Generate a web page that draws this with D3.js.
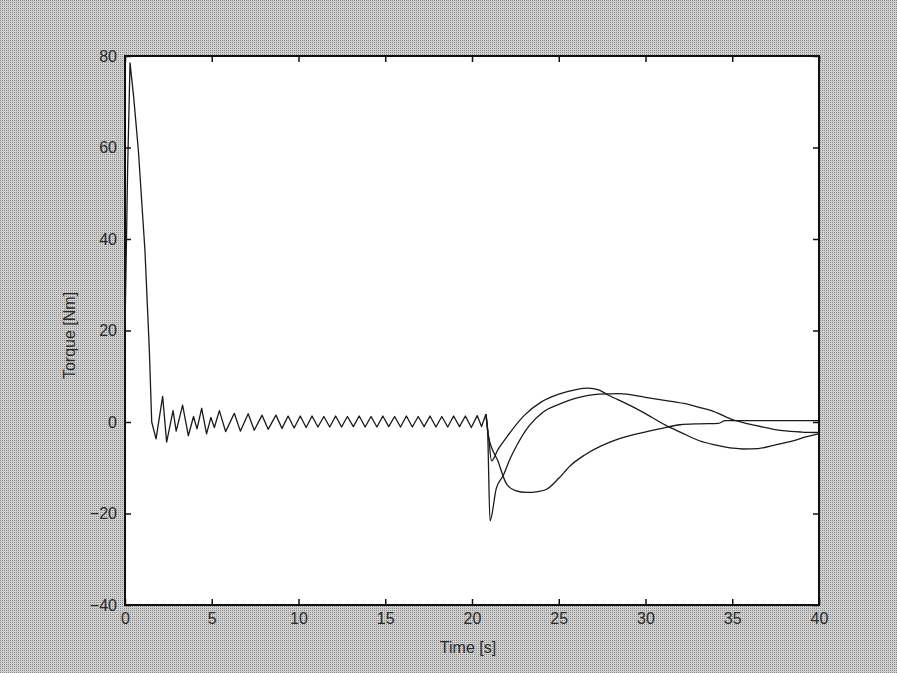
<!DOCTYPE html>
<html lang="en">
<meta charset="utf-8">
<script src="https://d3js.org/d3.v7.min.js"></script>
<style>
  body { margin: 0; background: #bdbdbd; }
  text { font-family: "Liberation Sans", Arial, sans-serif; }
</style>
<body>
<div id="chart"></div>
<script>
// x ticks / y ticks
var xTicks = [0, 5, 10, 15, 20, 25, 30, 35, 40];
var yTicks = [-40, -20, 0, 20, 40, 60, 80];

// start-up transient, shared by all three runs: [time s, torque Nm]
var sharedStart = [
  [0, 20], [0.15, 55], [0.29, 78.5], [0.5, 71], [0.77, 59.4], [1.15, 37.5], [1.4, 16], [1.54, 0],
  [1.79, -3.7], [2.17, 5.6], [2.4, -4.4], [2.77, 2.5], [2.95, -2], [3.32, 3.7], [3.65, -3],
  [3.95, 1.2], [4.15, -1.5], [4.42, 3.0], [4.7, -2.6], [4.95, 1.0], [5.15, -1.2], [5.44, 2.5],
  [5.8, -2.1], [6.3, 1.9], [6.65, -2.0], [7.1, 1.8], [7.45, -1.8], [7.9, 1.5], [8.25, -1.6],
  [8.7, 1.5], [9.05, -1.4], [9.4, 1.3], [9.75, -1.3], [10.1, 1.3], [10.44, -1.2], [10.78, 1.3],
  [11.12, -1.1], [11.46, 1.2], [11.8, -1.1], [12.14, 1.3], [12.48, -1.1], [12.82, 1.2],
  [13.16, -1.0], [13.5, 1.3], [13.84, -1.1], [14.18, 1.2], [14.52, -1.1], [14.86, 1.3],
  [15.2, -1.0], [15.54, 1.2], [15.88, -1.1], [16.22, 1.3], [16.56, -1.1], [16.9, 1.2],
  [17.24, -1.0], [17.58, 1.3], [17.92, -1.1], [18.26, 1.2], [18.6, -1.1], [18.94, 1.3],
  [19.28, -1.0], [19.62, 1.3], [19.96, -1.2], [20.3, 1.4], [20.55, -1.0], [20.8, 1.7]
];

// after the load step at ~21 s
var tailA = [
  [20.8, 1.7], [20.9, -2], [21.04, -21.6], [21.4, -14.5], [21.8, -11.7], [22.2, -8],
  [22.57, -5.2], [23.3, -0.8], [24.07, 2.1], [25.03, 3.9], [26, 5.2], [27.3, 6.1],
  [28.5, 6.2], [30, 5.4], [31.5, 4.5], [32.3, 4.0], [33.1, 3.2], [33.8, 2.5], [34.9, 0.7],
  [36.4, -0.8], [37.9, -1.9], [39.0, -2.2], [40, -2.3]
];
var tailB = [
  [20.8, 1.7], [20.95, -3], [21.13, -8.5], [21.5, -6], [22, -3.3], [23, 1.4], [24, 4.4],
  [25, 6.1], [26, 7.1], [26.7, 7.4], [27.3, 7.0], [27.9, 5.8], [28.9, 4.0], [29.87, 2.1],
  [31.2, -0.8], [32, -2.2], [33.1, -4.1], [34, -5.0], [35, -5.7], [35.6, -5.9], [36.5, -5.8],
  [37.5, -5.0], [38.5, -4.1], [39.3, -3.2], [40, -2.6]
];
var tailC = [
  [20.8, 1.7], [20.94, -3], [21.5, -8.6], [22, -13.6], [22.5, -15], [23.15, -15.4],
  [23.8, -15.2], [24.3, -14.7], [25, -12.3], [25.65, -9.6], [26.5, -7.2], [27.95, -4.4],
  [29.5, -2.6], [30.8, -1.5], [32, -0.6], [33.1, -0.4], [34.2, -0.3], [34.6, 0.3], [40, 0.3]
];

var margin = {top: 56, right: 78, bottom: 68, left: 125},
    width = 897 - margin.left - margin.right,
    height = 673 - margin.top - margin.bottom;

var root = d3.select("#chart")
  .append("svg")
    .attr("width", 897)
    .attr("height", 673);

// halftone-ish grey backdrop
var pat = root.append("defs").append("pattern")
    .attr("id", "dither")
    .attr("width", 2).attr("height", 2)
    .attr("patternUnits", "userSpaceOnUse");
pat.append("rect").attr("width", 2).attr("height", 2).attr("fill", "#cfcfcf");
pat.append("rect").attr("width", 1).attr("height", 1).attr("fill", "#8c8c8c");
root.append("rect").attr("width", 897).attr("height", 673).attr("fill", "url(#dither)");

var svg = root.append("g")
    .attr("transform", "translate(" + margin.left + "," + margin.top + ")");

svg.append("rect")
    .attr("width", width).attr("height", height)
    .attr("fill", "#fff");

var x = d3.scaleLinear().domain([0, 40]).range([0, width]);
var y = d3.scaleLinear().domain([-40, 80]).range([height, 0]);

function styleAxis(g) {
  g.select(".domain").remove();
  g.selectAll(".tick line").attr("stroke", "#111").attr("stroke-width", 1.5);
  g.selectAll(".tick text").attr("fill", "#2b2b2b").style("font-size", "16px");
}

svg.append("g")
    .attr("transform", "translate(0," + height + ")")
    .call(d3.axisBottom(x).tickValues(xTicks).tickSizeInner(-6).tickSizeOuter(0).tickPadding(8))
    .call(styleAxis);
svg.append("g")
    .call(d3.axisTop(x).tickValues(xTicks).tickSizeInner(-6).tickSizeOuter(0).tickFormat(""))
    .call(styleAxis);
svg.append("g")
    .call(d3.axisLeft(y).tickValues(yTicks).tickSizeInner(-6).tickSizeOuter(0).tickPadding(8))
    .call(styleAxis);
svg.append("g")
    .attr("transform", "translate(" + width + ",0)")
    .call(d3.axisRight(y).tickValues(yTicks).tickSizeInner(-6).tickSizeOuter(0).tickFormat(""))
    .call(styleAxis);

svg.append("rect")
    .attr("width", width).attr("height", height)
    .attr("fill", "none")
    .attr("stroke", "#111")
    .attr("stroke-width", 2);

var line = d3.line()
    .x(function(d) { return x(d[0]); })
    .y(function(d) { return y(d[1]); });

// the recovery curves are smooth, so round them off
var smooth = d3.line()
    .curve(d3.curveMonotoneX)
    .x(function(d) { return x(d[0]); })
    .y(function(d) { return y(d[1]); });

svg.append("path")
    .datum(sharedStart)
    .attr("fill", "none")
    .attr("stroke", "#1a1a1a")
    .attr("stroke-width", 1.3)
    .attr("stroke-linejoin", "round")
    .attr("d", line);

[tailA, tailB, tailC].forEach(function(s) {
  svg.append("path")
      .datum(s)
      .attr("fill", "none")
      .attr("stroke", "#1a1a1a")
      .attr("stroke-width", 1.3)
      .attr("stroke-linejoin", "round")
      .attr("d", smooth);
});

svg.append("text")
    .attr("x", width / 2 - 4)
    .attr("y", height + 48)
    .attr("text-anchor", "middle")
    .attr("fill", "#2b2b2b")
    .style("font-size", "16px")
    .text("Time [s]");

svg.append("text")
    .attr("transform", "translate(-50," + (height / 2 + 5) + ") rotate(-90)")
    .attr("text-anchor", "middle")
    .attr("fill", "#2b2b2b")
    .style("font-size", "16px")
    .text("Torque [Nm]");
</script>
</body>
</html>
